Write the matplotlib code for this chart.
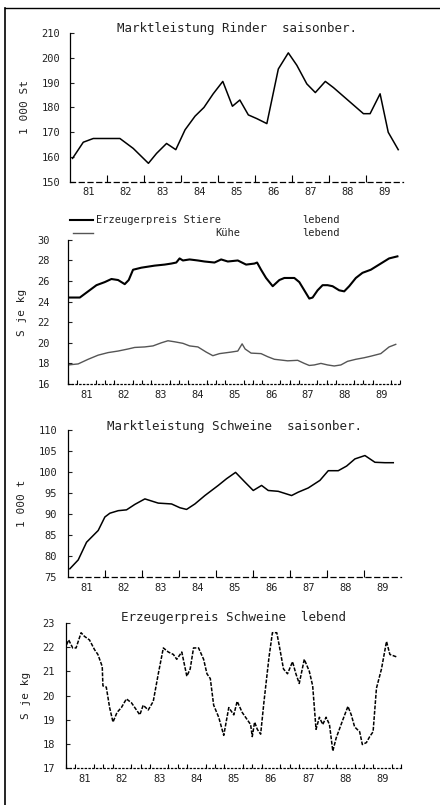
import numpy as np
import matplotlib.pyplot as plt
from matplotlib.lines import Line2D

# Marktleistung Rinder (quartalsweise, 1 000 St)
rinder_x = [1981.07, 1981.36, 1981.63, 1981.99, 1982.35, 1982.71, 1983.12, 1983.34,
            1983.61, 1983.86, 1984.11, 1984.38, 1984.62, 1984.87, 1985.13, 1985.39,
            1985.59, 1985.82, 1986.05, 1986.32, 1986.63, 1986.90, 1987.13, 1987.40,
            1987.63, 1987.90, 1988.12, 1988.39, 1988.66, 1988.93, 1989.11, 1989.38,
            1989.60, 1989.87]
rinder_y = [159.5, 166, 167.5, 167.5, 167.5, 163.5, 157.5, 161.5,
            165.5, 163, 171, 176.5, 180, 185.5, 190.5, 180.5,
            183, 177, 175.5, 173.5, 195.5, 202, 197, 189.5,
            186, 190.5, 188, 184.5, 181, 177.5, 177.5, 185.5,
            170, 163]

# Erzeugerpreis Stiere lebend (S je kg)
stiere_xz = [210, 245, 270, 295, 320, 340, 360, 380, 392, 405, 430, 470, 500, 520, 535,
             545, 555, 575, 600, 620, 650, 670, 690, 720, 745, 770, 778, 790, 805, 825,
             845, 860, 890, 905, 920, 935, 945, 960, 975, 990, 1005, 1025, 1040, 1055,
             1075, 1095, 1120, 1145, 1175, 1200]
stiere_y = [24.4, 24.4, 25.0, 25.6, 25.9, 26.2, 26.1, 25.7, 26.1, 27.1, 27.3, 27.5, 27.6,
            27.7, 27.8, 28.2, 28.0, 28.1, 28.0, 27.9, 27.8, 28.1, 27.9, 28.0, 27.6, 27.7,
            27.8, 27.1, 26.3, 25.5, 26.1, 26.3, 26.3, 25.9, 25.1, 24.3, 24.4, 25.1, 25.6,
            25.6, 25.5, 25.1, 25.0, 25.5, 26.3, 26.8, 27.1, 27.6, 28.2, 28.4]

# Erzeugerpreis Kuehe lebend (S je kg)
kuehe_xz = [210, 240, 270, 300, 330, 360, 390, 410, 440, 465, 490, 510, 530, 555, 575,
            600, 625, 645, 665, 700, 720, 733, 742, 760, 790, 810, 830, 870, 900, 920,
            935, 950, 970, 990, 1010, 1030, 1050, 1075, 1100, 1120, 1150, 1175, 1195]
kuehe_y = [17.85, 17.95, 18.4, 18.8, 19.05, 19.2, 19.4, 19.55, 19.6, 19.7, 20.0, 20.2,
           20.1, 19.95, 19.7, 19.6, 19.1, 18.75, 18.95, 19.1, 19.2, 19.9, 19.4, 19.0,
           18.95, 18.65, 18.4, 18.25, 18.3, 18.0, 17.8, 17.85, 18.0, 17.85, 17.75, 17.85,
           18.2, 18.4, 18.55, 18.7, 18.95, 19.6, 19.85]

# Marktleistung Schweine (1 000 t)
schweine_xz = [215, 240, 265, 280, 300, 320, 335, 360, 385, 410, 440, 480, 520, 545, 565,
               590, 620, 660, 685, 712, 740, 765, 790, 810, 840, 880, 900, 930, 965, 990,
               1020, 1045, 1070, 1100, 1130, 1160, 1185]
schweine_y = [77.0, 79.1, 83.3, 84.5, 86.1, 89.3, 90.2, 90.8, 91.0, 92.3, 93.6, 92.6, 92.4,
              91.5, 91.1, 92.4, 94.4, 96.8, 98.4, 99.9, 97.6, 95.6, 96.8, 95.6, 95.4, 94.4,
              95.2, 96.2, 98.0, 100.3, 100.3, 101.4, 103.1, 103.9, 102.3, 102.2, 102.2]

# Erzeugerpreis Schweine lebend (S je kg)
spreis_xz = [205, 218, 230, 240, 255, 265, 280, 295, 305, 318, 320, 330, 340, 350, 362,
             375, 390, 405, 420, 430, 440, 455, 470, 485, 500, 515, 530, 540, 555, 570,
             580, 590, 605, 620, 630, 640, 650, 665, 680, 695, 710, 720, 735, 745, 760,
             765, 772, 780, 790, 800, 815, 825, 838, 845, 858, 870, 885, 895, 905, 920,
             935, 945, 955, 965, 975, 985, 995, 1005, 1015, 1035, 1050, 1060, 1070, 1085,
             1093, 1105, 1115, 1125, 1135, 1150, 1165, 1175, 1195]
spreis_y = [21.9, 22.3, 21.97, 21.97, 22.6, 22.45, 22.3, 21.9, 21.7, 21.2, 20.4, 20.35,
            19.5, 18.9, 19.3, 19.5, 19.86, 19.7, 19.4, 19.2, 19.6, 19.4, 19.76, 20.9,
            21.97, 21.8, 21.7, 21.5, 21.8, 20.8, 21.1, 21.97, 21.97, 21.5, 20.9, 20.7,
            19.6, 19.1, 18.35, 19.5, 19.2, 19.76, 19.3, 19.1, 18.8, 18.3, 18.9, 18.6,
            18.4, 19.76, 21.6, 22.6, 22.6, 22.1, 21.1, 20.9, 21.4, 20.9, 20.5, 21.5,
            21.0, 20.4, 18.6, 19.1, 18.8, 19.1, 18.8, 17.7, 18.24, 19.0, 19.55, 19.2,
            18.7, 18.5, 17.97, 18.05, 18.3, 18.5, 20.3, 21.1, 22.24, 21.7, 21.6]

jahre = ['81', '82', '83', '84', '85', '86', '87', '88', '89']


def to_year(xz):
    return 1981 + (np.array(xz) / 3 - 70) / 37


mono = 'DejaVu Sans Mono'
plt.rcParams['font.family'] = mono
textfarbe = '#222222'

fig = plt.figure(figsize=(4.4, 8.05), dpi=100)

# Rahmen links und oben
fig.add_artist(Line2D([0.011, 0.011], [0.0, 0.99], color='black', lw=1.2))
fig.add_artist(Line2D([0.011, 1.0], [0.99, 0.99], color='black', lw=1.0))


def achse(rect, ymin, ymax, ystep, ylabel, ypad, dotted):
    ax = fig.add_axes(rect)
    ax.set_xlim(1981, 1990)
    ax.set_ylim(ymin, ymax)
    ax.spines['top'].set_visible(False)
    ax.spines['right'].set_visible(False)
    ax.spines['left'].set_linewidth(0.9)
    ax.spines['bottom'].set_linewidth(0.9)
    if dotted:
        ax.spines['bottom'].set_linestyle((0, (1, 2)))
    else:
        ax.spines['bottom'].set_linestyle((0, (4, 3)))
    ax.set_yticks(np.arange(ymin, ymax + 0.01, ystep))
    ax.tick_params(axis='y', direction='in', length=3, labelsize=7.5,
                   pad=ypad, colors=textfarbe)
    ax.set_xticks(np.arange(1981.5, 1990, 1))
    ax.set_xticklabels(jahre)
    ax.tick_params(axis='x', length=0, labelsize=7.5, pad=4, colors=textfarbe)
    if dotted:
        ax.set_xticks(np.arange(1981, 1990.01, 0.25), minor=True)
        ax.tick_params(axis='x', which='minor', direction='in', length=3, width=0.8)
    else:
        ax.set_xticks(np.arange(1982, 1990, 1), minor=True)
        ax.tick_params(axis='x', which='minor', direction='in', length=5, width=0.8)
    ax.set_ylabel(ylabel, fontsize=8, color=textfarbe, labelpad=8)
    return ax


# Marktleistung Rinder
ax1 = achse([0.159, 0.774, 0.757, 0.185], 150, 210, 10, '1 000 St', 7, False)
ax1.plot(rinder_x, rinder_y, color='black', lw=1.1)
ax1.text(0.5, 1.03, 'Marktleistung Rinder  saisonber.', transform=ax1.transAxes,
         ha='center', va='center', fontsize=9, color=textfarbe)

# Erzeugerpreis Stiere / Kuehe
ax2 = achse([0.155, 0.523, 0.755, 0.179], 16, 30, 2, 'S je kg', 13, True)
ax2.plot(to_year(stiere_xz), stiere_y, color='black', lw=1.5)
ax2.plot(to_year(kuehe_xz), kuehe_y, color='#555555', lw=1.0)
fig.add_artist(Line2D([0.159, 0.211], [0.727, 0.727], color='black', lw=1.5))
fig.add_artist(Line2D([0.166, 0.211], [0.711, 0.711], color='#555555', lw=1.0))
fig.text(0.218, 0.727, 'Erzeugerpreis Stiere', fontsize=7.5, va='center', color=textfarbe)
fig.text(0.686, 0.727, 'lebend', fontsize=7.5, va='center', color=textfarbe)
fig.text(0.489, 0.711, 'Kühe', fontsize=7.5, va='center', color=textfarbe)
fig.text(0.686, 0.711, 'lebend', fontsize=7.5, va='center', color=textfarbe)

# Marktleistung Schweine
ax3 = achse([0.155, 0.283, 0.757, 0.183], 75, 110, 5, '1 000 t', 8, False)
ax3.plot(to_year(schweine_xz), schweine_y, color='black', lw=1.1)
ax3.text(0.5, 1.02, 'Marktleistung Schweine  saisonber.', transform=ax3.transAxes,
         ha='center', va='center', fontsize=9, color=textfarbe)

# Erzeugerpreis Schweine
ax4 = achse([0.150, 0.046, 0.762, 0.180], 17, 23, 1, 'S je kg', 8, True)
ax4.plot(to_year(spreis_xz), spreis_y, color='black', lw=1.1, linestyle=(0, (2.5, 1)))
ax4.text(0.5, 1.04, 'Erzeugerpreis Schweine  lebend', transform=ax4.transAxes,
         ha='center', va='center', fontsize=9, color=textfarbe)

fig.savefig('out.png', dpi=100)
